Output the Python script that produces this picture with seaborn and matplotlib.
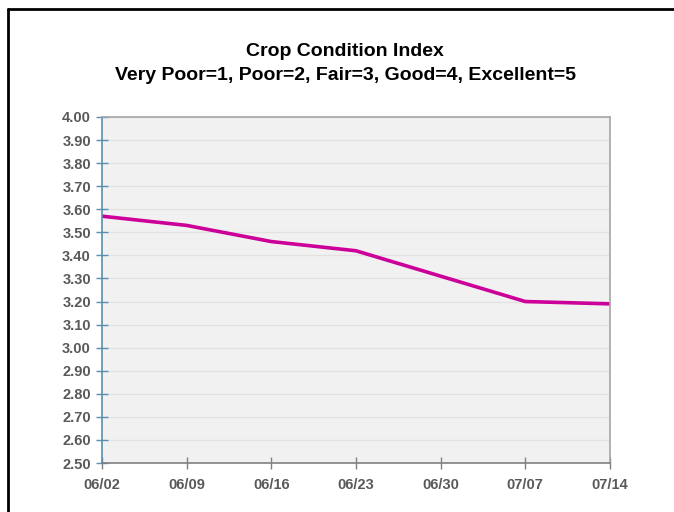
#import library
import pandas as pd
import seaborn as sns
import matplotlib.pyplot as plt
from matplotlib.lines import Line2D

#data
weeks = ["06/02", "06/09", "06/16", "06/23", "06/30", "07/07", "07/14"]
index_values = [3.57, 3.53, 3.46, 3.42, 3.31, 3.20, 3.19]
y_ticks = [2.5 + 0.1 * i for i in range(16)]

df = pd.DataFrame({"week": weeks, "index": index_values})
df["pos"] = range(len(weeks))

sns.set_style("white")
plt.rcParams['font.family'] = ['Liberation Sans', 'DejaVu Sans']

fig = plt.figure(figsize=(6.74, 5.12), dpi=100)
ax = fig.add_axes([0.1513, 0.0957, 0.9050 - 0.1513, 0.7715 - 0.0957])
ax.set_facecolor("#f1f1f1")

sns.lineplot(data=df, x="pos", y="index", color="#cc0099", linewidth=2.6, ax=ax)

ax.set_xlim(0, len(weeks) - 1)
ax.set_ylim(2.5, 4.0)
ax.set_xticks(df["pos"])
ax.set_xticklabels(weeks)
ax.set_yticks(y_ticks)
ax.set_yticklabels([f"{v:.2f}" for v in y_ticks])
ax.set_xlabel("")
ax.set_ylabel("")

#grid
ax.yaxis.grid(True, color="#e2e2e2", linewidth=1.0)
ax.xaxis.grid(False)
ax.set_axisbelow(True)

#spines
for side in ["top", "right", "bottom"]:
    ax.spines[side].set_visible(True)
    ax.spines[side].set_color("#a6a6a6")
    ax.spines[side].set_linewidth(1.2)
ax.spines["bottom"].set_color("#808080")
ax.spines["left"].set_color("#5b8fb0")
ax.spines["left"].set_linewidth(1.2)

ax.tick_params(axis="y", left=True, direction="inout", length=8, width=1, color="#5b8fb0",
               labelsize=10.5, labelcolor="#595959", pad=4)
ax.tick_params(axis="x", bottom=True, direction="inout", length=8, width=1, color="#808080",
               labelsize=10.5, labelcolor="#595959", pad=7)
for lab in ax.get_xticklabels() + ax.get_yticklabels():
    lab.set_fontweight("bold")

#title
fig.text(0.512, 0.90, "Crop Condition Index", ha="center", va="center",
         fontsize=14, fontweight="bold", color="#000000")
fig.text(0.512, 0.852, "Very Poor=1, Poor=2, Fair=3, Good=4, Excellent=5", ha="center",
         va="center", fontsize=14, fontweight="bold", color="#000000")

#outer border (top and left)
fig.add_artist(Line2D([0.0125, 1.0], [0.982, 0.982], color="black", linewidth=2))
fig.add_artist(Line2D([0.0125, 0.0125], [0.0, 0.982], color="black", linewidth=2))

plt.savefig("out.png", dpi=100)
